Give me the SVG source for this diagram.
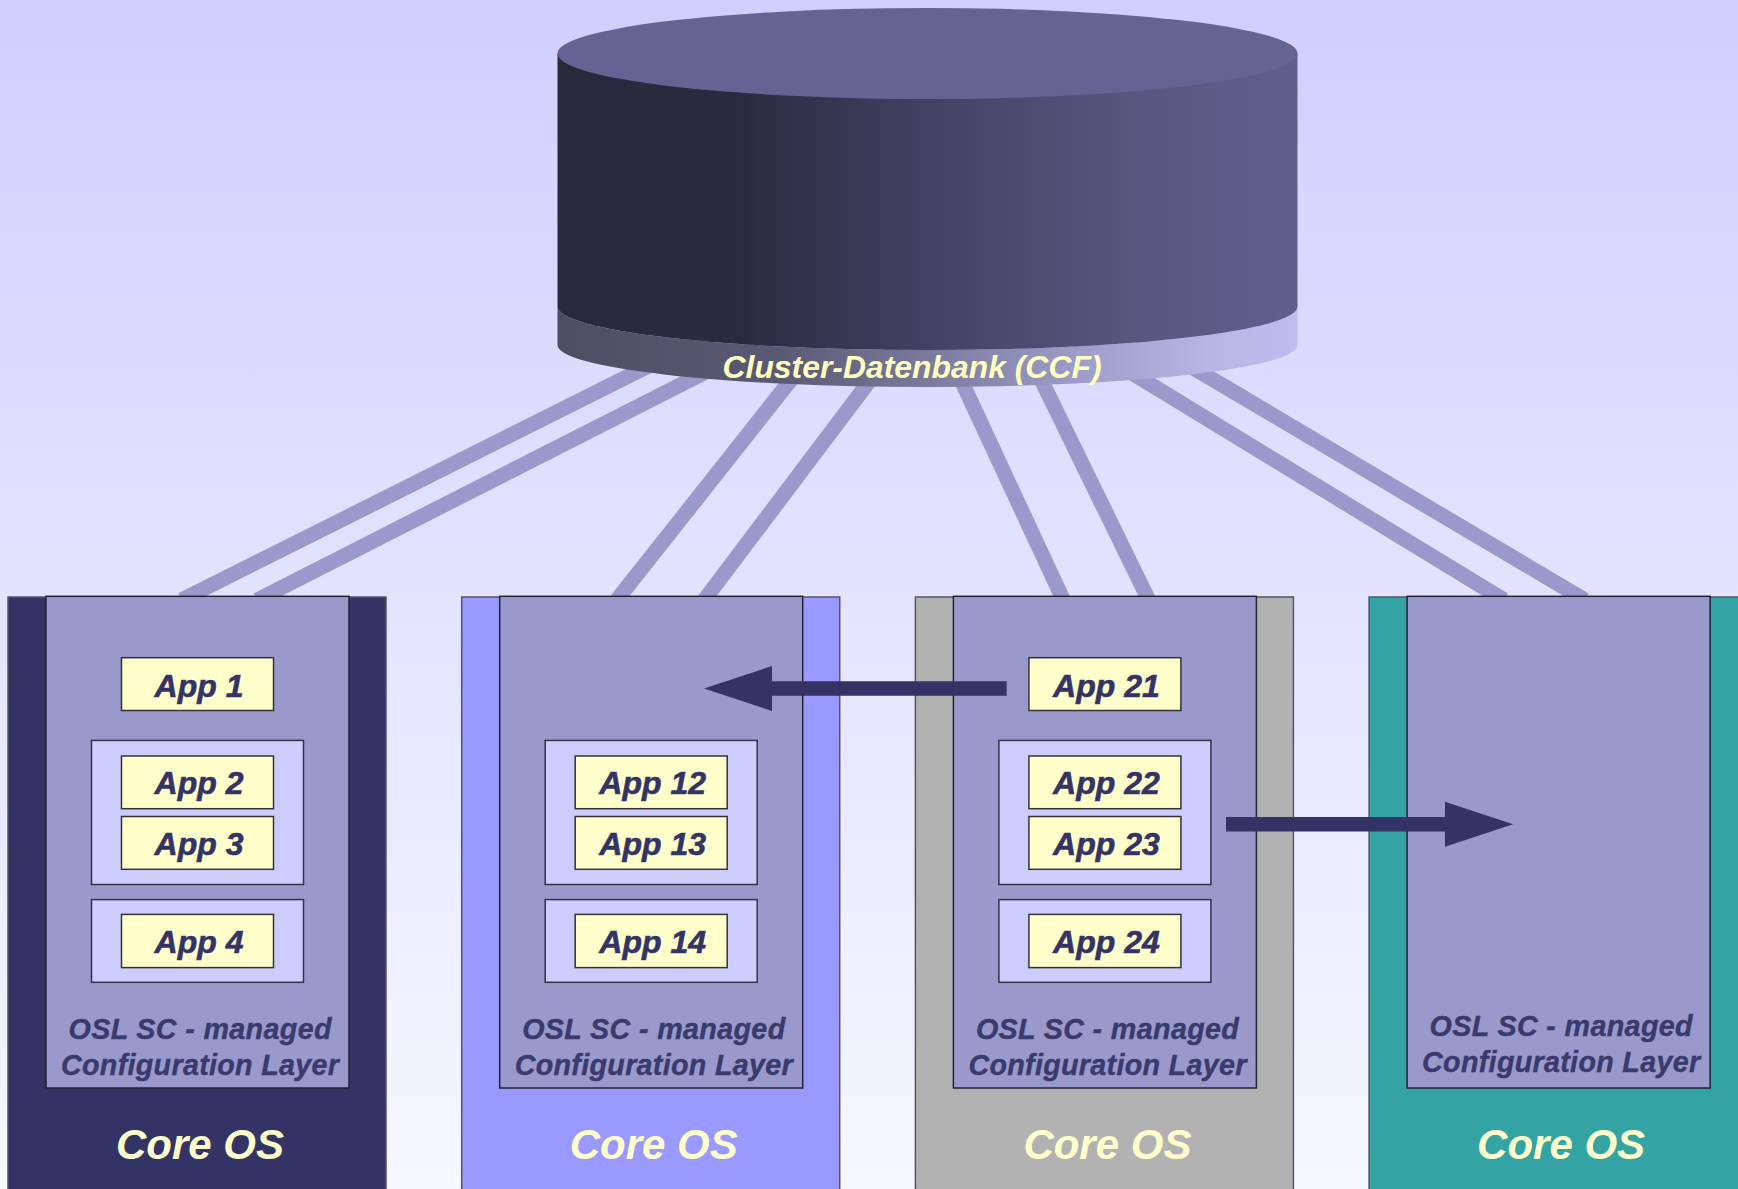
<svg xmlns="http://www.w3.org/2000/svg" width="1738" height="1189" viewBox="0 0 1738 1189">
<defs>
<linearGradient id="bg" x1="0" y1="0" x2="0" y2="1">
<stop offset="0" stop-color="#cfcfff"/>
<stop offset="1" stop-color="#f7f7ff"/>
</linearGradient>
<linearGradient id="body" gradientUnits="userSpaceOnUse" x1="557.5" y1="0" x2="1297.5" y2="0">
<stop offset="0" stop-color="#29293c"/>
<stop offset="0.25" stop-color="#2b2b40"/>
<stop offset="0.45" stop-color="#3d3d5c"/>
<stop offset="0.6" stop-color="#4a4a6e"/>
<stop offset="0.78" stop-color="#57577f"/>
<stop offset="1" stop-color="#5f5f8e"/>
</linearGradient>
<linearGradient id="band" gradientUnits="userSpaceOnUse" x1="557.5" y1="0" x2="1297.5" y2="0">
<stop offset="0" stop-color="#4d4d63"/>
<stop offset="0.3" stop-color="#5a5a74"/>
<stop offset="0.5" stop-color="#7a7a9c"/>
<stop offset="0.7" stop-color="#9c9cc8"/>
<stop offset="0.88" stop-color="#b6b6e6"/>
<stop offset="1" stop-color="#bcbcee"/>
</linearGradient>
<marker id="head" markerUnits="userSpaceOnUse" markerWidth="70" markerHeight="46" refX="0" refY="22.5" orient="auto" overflow="visible">
<path d="M0,0 L68,22.5 L0,45 Z" fill="#333366"/>
</marker>
<style>
.link{stroke:#9999cc;stroke-width:15;fill:none}
.arrow{stroke:#333366;stroke-width:14.5;fill:none;marker-end:url(#head)}
.core{stroke:#555566;stroke-width:1.5}
.layer{fill:#9999cc;stroke:#222233;stroke-width:1.5}
.grp{fill:#ccccff;stroke:#333344;stroke-width:1.5}
.app{fill:#ffffcc;stroke:#333333;stroke-width:1.5}
.t{font-family:"Liberation Sans",Arial,sans-serif;font-weight:bold;font-style:italic;text-anchor:middle}
.appt{font-size:32px;fill:#333366;stroke:#333366;stroke-width:0.6}
.osl{font-size:28.7px;fill:#3a3a6c;stroke:#3a3a6c;stroke-width:0.4}
.os{font-size:42px;fill:#ffffcc}
.ccf{font-family:"Liberation Sans Narrow","Liberation Sans",Arial,sans-serif;font-weight:bold;font-style:italic;font-size:32px;fill:#ffffc0}
</style>
</defs>
<rect x="0" y="0" width="1738" height="1189" fill="url(#bg)"/>

<g id="connectors-db">
<line class="link" x1="720.5" y1="330" x2="181.6" y2="600"/>
<line class="link" x1="788.5" y1="330" x2="257.1" y2="600"/>
<line class="link" x1="830.4" y1="330" x2="616.8" y2="600"/>
<line class="link" x1="907.9" y1="330" x2="704.3" y2="600"/>
<line class="link" x1="937.8" y1="330" x2="1063.3" y2="600"/>
<line class="link" x1="1016.9" y1="330" x2="1148.7" y2="600"/>
<line class="link" x1="1061.5" y1="330" x2="1504" y2="600"/>
<line class="link" x1="1129.2" y1="330" x2="1585" y2="600"/>
</g>

<g id="database">
<path d="M557.5,306.5 A370,43.5 0 0 0 1297.5,306.5 L1297.5,345 A370,42 0 0 1 557.5,345 Z" fill="url(#band)"/>
<path d="M557.5,53.5 L557.5,306.5 A370,43.5 0 0 0 1297.5,306.5 L1297.5,53.5 Z" fill="url(#body)"/>
<ellipse cx="927.5" cy="53.5" rx="370" ry="45.5" fill="#646494"/>
<text class="ccf" x="912" y="378" text-anchor="middle" textLength="379" lengthAdjust="spacingAndGlyphs">Cluster-Datenbank (CCF)</text>
</g>

<g id="node1">
<rect class="core" x="8" y="597" width="378" height="600" fill="#333366"/>
<rect class="layer" x="46" y="596.3" width="303" height="491.7"/>
<rect class="app" x="121.5" y="657.7" width="152" height="52.8"/>
<text class="t appt" x="199" y="696.5">App 1</text>
<rect class="grp" x="91.5" y="740.4" width="212" height="144.1"/>
<rect class="app" x="121.5" y="756" width="152" height="52.7"/>
<text class="t appt" x="199" y="794.4">App 2</text>
<rect class="app" x="121.5" y="816.5" width="152" height="52.8"/>
<text class="t appt" x="199" y="854.6">App 3</text>
<rect class="grp" x="91.5" y="899.6" width="212" height="82.7"/>
<rect class="app" x="121.5" y="914.4" width="152" height="53.2"/>
<text class="t appt" x="199" y="952.8">App 4</text>
<text class="t osl" x="200" y="1039.4" textLength="263">OSL SC - managed</text>
<text class="t osl" x="200" y="1075.1" textLength="278">Configuration Layer</text>
<text class="t os" x="200" y="1159.4">Core OS</text>
</g>

<g id="node2">
<rect class="core" x="461.7" y="597" width="378" height="600" fill="#9999ff"/>
<rect class="layer" x="499.7" y="596.3" width="303" height="491.7"/>
<rect class="grp" x="545.2" y="740.4" width="212" height="144.1"/>
<rect class="app" x="575.2" y="756" width="152" height="52.7"/>
<text class="t appt" x="652.7" y="794.4">App 12</text>
<rect class="app" x="575.2" y="816.5" width="152" height="52.8"/>
<text class="t appt" x="652.7" y="854.6">App 13</text>
<rect class="grp" x="545.2" y="899.6" width="212" height="82.7"/>
<rect class="app" x="575.2" y="914.4" width="152" height="53.2"/>
<text class="t appt" x="652.7" y="952.8">App 14</text>
<text class="t osl" x="653.7" y="1039.4" textLength="263">OSL SC - managed</text>
<text class="t osl" x="653.7" y="1075.1" textLength="278">Configuration Layer</text>
<text class="t os" x="653.7" y="1159.4">Core OS</text>
</g>

<g id="node3">
<rect class="core" x="915.4" y="597" width="378" height="600" fill="#b2b2b2"/>
<rect class="layer" x="953.4" y="596.3" width="303" height="491.7"/>
<rect class="app" x="1028.9" y="657.7" width="152" height="52.8"/>
<text class="t appt" x="1106.4" y="696.5">App 21</text>
<rect class="grp" x="998.9" y="740.4" width="212" height="144.1"/>
<rect class="app" x="1028.9" y="756" width="152" height="52.7"/>
<text class="t appt" x="1106.4" y="794.4">App 22</text>
<rect class="app" x="1028.9" y="816.5" width="152" height="52.8"/>
<text class="t appt" x="1106.4" y="854.6">App 23</text>
<rect class="grp" x="998.9" y="899.6" width="212" height="82.7"/>
<rect class="app" x="1028.9" y="914.4" width="152" height="53.2"/>
<text class="t appt" x="1106.4" y="952.8">App 24</text>
<text class="t osl" x="1107.4" y="1039.4" textLength="263">OSL SC - managed</text>
<text class="t osl" x="1107.4" y="1075.1" textLength="278">Configuration Layer</text>
<text class="t os" x="1107.4" y="1159.4">Core OS</text>
</g>

<g id="node4">
<rect class="core" x="1369.1" y="597" width="378" height="600" fill="#33a3a3"/>
<rect class="layer" x="1407.1" y="596.3" width="303" height="491.7"/>
<text class="t osl" x="1561.1" y="1036.3" textLength="263">OSL SC - managed</text>
<text class="t osl" x="1561.1" y="1072.4" textLength="278">Configuration Layer</text>
<text class="t os" x="1561.1" y="1159.4">Core OS</text>
</g>

<g id="connectors-move">
<line class="arrow" x1="1006.7" y1="688.5" x2="772" y2="688.5"/>
<line class="arrow" x1="1226" y1="824.2" x2="1445" y2="824.2"/>
</g>
</svg>
